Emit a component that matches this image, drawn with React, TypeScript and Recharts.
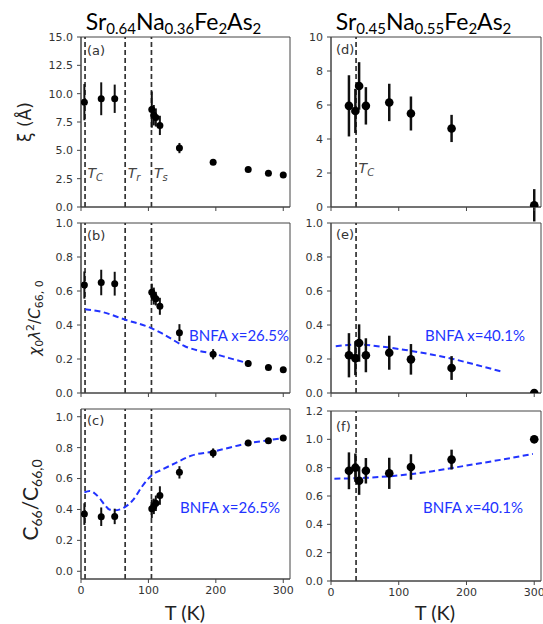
import React from 'react';
import {
  ComposedChart,
  Scatter,
  Line,
  XAxis,
  YAxis,
  ErrorBar,
  ReferenceLine,
  ReferenceArea,
} from 'recharts';

// ---------- data ----------
const X_DOMAIN: [number, number] = [0, 310];
const X_TICKS = [0, 100, 200, 300];

// Sr0.64Na0.36Fe2As2
const T_LEFT = [5, 30, 50, 105, 108, 111, 117, 146, 196, 248, 278, 300];
const XI_LEFT = [9.25, 9.55, 9.55, 8.6, 8.1, 7.9, 7.2, 5.2, 3.95, 3.3, 2.97, 2.82];
const XI_LEFT_ERR = [1.6, 1.45, 1.25, 1.6, 0.9, 0.8, 0.85, 0.45, 0.1, 0.1, 0.1, 0.1];
const CHI_LEFT = [0.635, 0.65, 0.643, 0.593, 0.57, 0.555, 0.51, 0.355, 0.228, 0.173, 0.15, 0.137];
const CHI_LEFT_ERR = [0.08, 0.075, 0.07, 0.05, 0.05, 0.04, 0.05, 0.05, 0.03, 0.02, 0.01, 0.01];
const C66_LEFT = [0.37, 0.353, 0.355, 0.405, 0.42, 0.44, 0.49, 0.64, 0.765, 0.83, 0.845, 0.862];
const C66_LEFT_ERR = [0.07, 0.06, 0.05, 0.06, 0.05, 0.05, 0.06, 0.04, 0.03, 0.02, 0.01, 0.01];

const BNFA_B_T = [6, 30, 65, 105, 118, 129, 154, 175, 196, 220, 248];
const BNFA_B = [0.492, 0.478, 0.432, 0.38, 0.355, 0.33, 0.275, 0.248, 0.232, 0.205, 0.175];
const BNFA_C_T = [5, 13, 20, 28, 35, 42, 50, 65, 77, 90, 105, 120, 140, 165, 196, 248, 278, 300];
const BNFA_C = [0.51, 0.52, 0.505, 0.47, 0.43, 0.4, 0.395, 0.415, 0.46, 0.545, 0.622, 0.657, 0.7, 0.75, 0.775, 0.828, 0.848, 0.862];

const TLINES_LEFT = [6, 65.5, 104.5];
const TLABELS_LEFT = ['C', 'r', 's'];

// Sr0.45Na0.55Fe2As2
const T_RIGHT = [26.5, 36, 41.5, 51.5, 86, 118, 178, 300];
const XI_RIGHT = [5.95, 5.65, 7.12, 5.95, 6.15, 5.5, 4.62, 0.1];
const XI_RIGHT_ERR = [1.8, 1.3, 1.4, 1.1, 1.1, 1.0, 0.8, 0.95];
const CHI_RIGHT = [0.222, 0.205, 0.294, 0.222, 0.237, 0.198, 0.147, 0.0];
const CHI_RIGHT_ERR = [0.13, 0.1, 0.11, 0.1, 0.1, 0.09, 0.07, 0];
const C66_RIGHT = [0.778, 0.8, 0.708, 0.778, 0.76, 0.805, 0.857, 1.0];
const C66_RIGHT_ERR = [0.13, 0.1, 0.1, 0.09, 0.11, 0.09, 0.07, 0];

const BNFA_E_T = [7, 40, 80, 110, 150, 180, 215, 250];
const BNFA_E = [0.275, 0.285, 0.27, 0.253, 0.225, 0.2, 0.165, 0.128];
const BNFA_F_T = [5, 50, 100, 150, 200, 250, 298];
const BNFA_F = [0.722, 0.728, 0.745, 0.775, 0.815, 0.855, 0.897];

const TLINES_RIGHT = [37];
const TLABELS_RIGHT = ['C'];

const Y_TICKS_A = [0, 2.5, 5, 7.5, 10, 12.5, 15];
const Y_TICKS_D = [0, 2, 4, 6, 8, 10];
const Y_TICKS_UNIT = [0, 0.2, 0.4, 0.6, 0.8, 1.0];
const Y_TICKS_F = [0, 0.2, 0.4, 0.6, 0.8, 1.0, 1.2];

// ---------- helpers ----------
const pts = (xs: number[], ys: number[], es: number[]) =>
  xs.map((x, i) => ({ x, y: ys[i], err: es[i] }));
const crv = (xs: number[], ys: number[]) => xs.map((x, i) => ({ x, y: ys[i] }));

const BLUE = '#2233ff';
const AX = '#444';
const TICKFONT = { fontSize: 11, fontFamily: 'DejaVu Sans' };

type PanelProps = {
  left: number;
  top: number;
  w: number;
  h: number;
  yDomain: [number, number];
  yTicks: number[];
  yFmt: (v: number) => string;
  data: { x: number; y: number; err: number }[];
  curve?: { x: number; y: number }[];
  vlines: number[];
  vlabels?: string[];
  labelOffset?: number;
  showX: boolean;
  r: number;
  errW: number;
};

const TLabel = (sub: string, off: number) => (props: any) => {
  const vb = props.viewBox || {};
  const x = (vb.x ?? 0) + 2.5;
  const y = (vb.y ?? 0) + (vb.height ?? 0) - off;
  return (
    <text x={x} y={y} fill="#444" fontFamily="DejaVu Sans" fontSize={14} fontStyle="italic">
      T<tspan dy={3} fontSize={10}>{sub}</tspan>
    </text>
  );
};

const noLabel = () => '';

function Panel(p: PanelProps) {
  const ML = 55;
  const MT = 5;
  const MR = 5;
  const XH = 28;
  return (
    <div style={{ position: 'absolute', left: p.left - ML, top: p.top - MT }}>
      <ComposedChart
        width={p.w + ML + MR}
        height={p.h + MT + XH}
        margin={{ top: MT, right: MR, left: 0, bottom: 0 }}
      >
        <XAxis
          type="number"
          dataKey="x"
          domain={X_DOMAIN}
          ticks={X_TICKS}
          interval={0}
          allowDataOverflow
          height={XH}
          tickSize={4}
          tickMargin={3}
          stroke={AX}
          tickFormatter={p.showX ? (v: number) => String(v) : noLabel}
          tick={{ ...TICKFONT, fill: '#333' }}
        />
        <YAxis
          type="number"
          domain={p.yDomain}
          ticks={p.yTicks}
          interval={0}
          allowDataOverflow
          width={ML}
          tickSize={4}
          tickMargin={4}
          stroke={AX}
          tickFormatter={p.yFmt}
          tick={{ ...TICKFONT, fill: '#333' }}
        />
        <ReferenceArea
          x1={X_DOMAIN[0]}
          x2={X_DOMAIN[1]}
          y1={p.yDomain[0]}
          y2={p.yDomain[1]}
          fill="none"
          stroke={AX}
          strokeWidth={1}
          ifOverflow="extendDomain"
        />
        {p.vlines.map((v, i) => (
          <ReferenceLine
            key={'v' + i}
            x={v}
            stroke="#333"
            strokeWidth={1.7}
            strokeDasharray="5 3"
            label={p.vlabels ? TLabel(p.vlabels[i], p.labelOffset ?? 29) : undefined}
          />
        ))}
        {p.curve && (
          <Line
            data={p.curve}
            dataKey="y"
            type="monotone"
            stroke={BLUE}
            strokeWidth={2}
            strokeDasharray="6 3.5"
            dot={false}
            activeDot={false}
            isAnimationActive={false}
          />
        )}
        <Scatter
          data={p.data}
          dataKey="y"
          isAnimationActive={false}
          shape={(s: any) => <circle cx={s.cx} cy={s.cy} r={p.r} fill="#000" />}
        >
          <ErrorBar dataKey="err" direction="y" width={0} stroke="#111" strokeWidth={p.errW} />
        </Scatter>
      </ComposedChart>
    </div>
  );
}

const f1 = (v: number) => v.toFixed(1);
const f0 = (v: number) => String(v);

const LB = { left: 81, w: 209 };
const RB = { left: 331, w: 210 };

export default function App() {
  const titleFont = 'Lato';
  return (
    <div style={{ position: 'absolute', left: 0, top: 0, width: 543, height: 624, background: '#fff', overflow: 'hidden' }}>
      <Panel left={LB.left} top={37} w={LB.w} h={170} yDomain={[0, 15]} yTicks={Y_TICKS_A} yFmt={f1}
        data={pts(T_LEFT, XI_LEFT, XI_LEFT_ERR)} vlines={TLINES_LEFT} vlabels={TLABELS_LEFT} labelOffset={29}
        showX={false} r={3.5} errW={2} />
      <Panel left={LB.left} top={223} w={LB.w} h={170} yDomain={[0, 1]} yTicks={Y_TICKS_UNIT} yFmt={f1}
        data={pts(T_LEFT, CHI_LEFT, CHI_LEFT_ERR)} curve={crv(BNFA_B_T, BNFA_B)} vlines={TLINES_LEFT}
        showX={false} r={3.5} errW={2} />
      <Panel left={LB.left} top={409} w={LB.w} h={170} yDomain={[-0.05, 1.05]} yTicks={Y_TICKS_UNIT} yFmt={f1}
        data={pts(T_LEFT, C66_LEFT, C66_LEFT_ERR)} curve={crv(BNFA_C_T, BNFA_C)} vlines={TLINES_LEFT}
        showX={true} r={3.5} errW={2} />

      <Panel left={RB.left} top={37} w={RB.w} h={170} yDomain={[0, 10]} yTicks={Y_TICKS_D} yFmt={f0}
        data={pts(T_RIGHT, XI_RIGHT, XI_RIGHT_ERR)} vlines={TLINES_RIGHT} vlabels={TLABELS_RIGHT} labelOffset={34}
        showX={false} r={4.3} errW={2.5} />
      <Panel left={RB.left} top={223} w={RB.w} h={170} yDomain={[0, 1]} yTicks={Y_TICKS_UNIT} yFmt={f1}
        data={pts(T_RIGHT, CHI_RIGHT, CHI_RIGHT_ERR)} curve={crv(BNFA_E_T, BNFA_E)} vlines={TLINES_RIGHT}
        showX={false} r={4.3} errW={2.5} />
      <Panel left={RB.left} top={411} w={RB.w} h={170} yDomain={[0, 1.2]} yTicks={Y_TICKS_F} yFmt={f1}
        data={pts(T_RIGHT, C66_RIGHT, C66_RIGHT_ERR)} curve={crv(BNFA_F_T, BNFA_F)} vlines={TLINES_RIGHT}
        showX={true} r={4.3} errW={2.5} />

      <svg width={543} height={624} style={{ position: 'absolute', left: 0, top: 0, pointerEvents: 'none' }}>
        {/* titles */}
        <text x={173.5} y={30} textAnchor="middle" fontFamily={titleFont} fontSize={23} fill="#000">
          Sr<tspan dy={4} fontSize={15}>0.64</tspan>
          <tspan dy={-4}>Na</tspan>
          <tspan dy={4} fontSize={15}>0.36</tspan>
          <tspan dy={-4}>Fe</tspan>
          <tspan dy={4} fontSize={15}>2</tspan>
          <tspan dy={-4}>As</tspan>
          <tspan dy={4} fontSize={15}>2</tspan>
        </text>
        <text x={423.5} y={30} textAnchor="middle" fontFamily={titleFont} fontSize={23} fill="#000">
          Sr<tspan dy={4} fontSize={15}>0.45</tspan>
          <tspan dy={-4}>Na</tspan>
          <tspan dy={4} fontSize={15}>0.55</tspan>
          <tspan dy={-4}>Fe</tspan>
          <tspan dy={4} fontSize={15}>2</tspan>
          <tspan dy={-4}>As</tspan>
          <tspan dy={4} fontSize={15}>2</tspan>
        </text>

        {/* y labels */}
        <text transform="translate(31,122) rotate(-90)" textAnchor="middle" fontFamily="DejaVu Sans" fontSize={17} fill="#222">
          ξ (Å)
        </text>
        <text transform="translate(40,318) rotate(-90)" textAnchor="middle" fontFamily="DejaVu Sans" fontSize={15} fill="#222">
          <tspan fontStyle="italic">χ</tspan>
          <tspan dy={3} fontSize={11}>0</tspan>
          <tspan dy={-3} fontStyle="italic">λ</tspan>
          <tspan dy={-6} fontSize={11}>2</tspan>
          <tspan dy={6}>/</tspan>
          <tspan fontStyle="italic">C</tspan>
          <tspan dy={3} fontSize={11}>66, 0</tspan>
        </text>
        <text transform="translate(38,500) rotate(-90)" textAnchor="middle" fontFamily={titleFont} fontSize={21} fill="#222">
          C<tspan dy={4} fontSize={14}>66</tspan>
          <tspan dy={-4}>/C</tspan>
          <tspan dy={4} fontSize={14}>66,0</tspan>
        </text>

        {/* x labels */}
        <text x={185} y={620} textAnchor="middle" fontFamily={titleFont} fontSize={20} fill="#222">T (K)</text>
        <text x={435} y={620} textAnchor="middle" fontFamily={titleFont} fontSize={20} fill="#222">T (K)</text>

        {/* panel letters */}
        <g fontFamily="DejaVu Sans" fontSize={13} fill="#333">
          <text x={87} y={55}>(a)</text>
          <text x={87} y={240}>(b)</text>
          <text x={87} y={425}>(c)</text>
          <text x={336} y={54}>(d)</text>
          <text x={336} y={239}>(e)</text>
          <text x={336} y={431}>(f)</text>
        </g>

        {/* BNFA labels */}
        <g fontFamily={titleFont} fontSize={15} fill={BLUE}>
          <text x={189} y={341}>BNFA x=26.5%</text>
          <text x={180} y={513}>BNFA x=26.5%</text>
          <text x={425} y={341}>BNFA x=40.1%</text>
          <text x={423} y={513}>BNFA x=40.1%</text>
        </g>
      </svg>
    </div>
  );
}
